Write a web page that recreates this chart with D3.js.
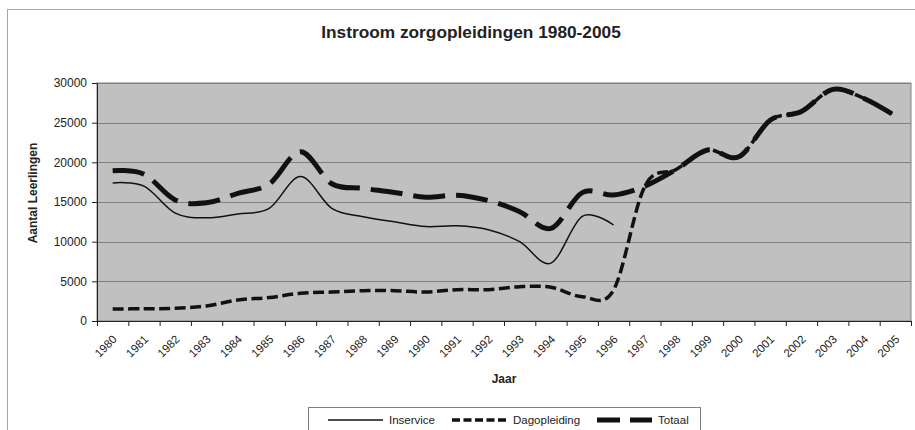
<!DOCTYPE html>
<html>
<head>
<meta charset="utf-8">
<script src="https://cdn.jsdelivr.net/npm/d3@7"></script>
<style>
  body { margin: 0; background: #fff; }
  svg { font-family: "Liberation Sans", Arial, sans-serif; }
</style>
</head>
<body>
<div id="chart"></div>
<script>
// data
var years = ["1980","1981","1982","1983","1984","1985","1986","1987","1988","1989","1990","1991","1992",
             "1993","1994","1995","1996","1997","1998","1999","2000","2001","2002","2003","2004","2005"];
var inservice = [17400, 17000, 13600, 13000, 13500, 14200, 18200, 14200, 13150, 12500, 11900, 12000, 11500,
                 10000, 7300, 13200, 12100];
var dagopleiding = [1500, 1550, 1600, 1900, 2650, 2950, 3500, 3650, 3820, 3820, 3650, 3950, 3950,
                    4330, 4250, 3070, 3900, 17000, 19100, 21550, 20700, 25300, 26400, 29200, 28050, 25850];
var totaal = [18950, 18500, 15250, 14900, 16100, 17270, 21340, 17300, 16720, 16200, 15600, 15850, 15170,
              13780, 11680, 16180, 15880, 17000, 19100, 21550, 20700, 25300, 26400, 29200, 28050, 25850];
var yTicks = [0, 5000, 10000, 15000, 20000, 25000, 30000];

var series = [
    {name: "Inservice", values: inservice, width: 1.5, dash: null},
    {name: "Dagopleiding", values: dagopleiding, width: 3.5, dash: "11,4.5"},
    {name: "Totaal", values: totaal, width: 5, dash: "32,11"}
];

var W = 915, H = 430;
var plot = {left: 97, right: 911, top: 83, bottom: 321};

var svg = d3.select("#chart").append("svg")
    .attr("width", W)
    .attr("height", H);

// outer chart border (right/bottom run off the picture)
svg.append("rect")
    .attr("x", 7.5).attr("y", 9.5)
    .attr("width", 1000).attr("height", 1000)
    .attr("fill", "#fff")
    .attr("stroke", "#a6a6a6");

var x = d3.scaleBand().domain(years).range([plot.left, plot.right]).padding(0);
var xEdge = d3.scaleLinear().domain([0, years.length]).range([plot.left, plot.right]);
var y = d3.scaleLinear().domain([0, 30000]).range([plot.bottom, plot.top]);

// plot background
svg.append("rect")
    .attr("x", plot.left).attr("y", plot.top)
    .attr("width", plot.right - plot.left).attr("height", plot.bottom - plot.top)
    .attr("fill", "#c0c0c0")
    .attr("stroke", "#808080");

// gridlines
svg.append("g").selectAll("line")
    .data(yTicks.slice(1))
    .join("line")
    .attr("x1", plot.left).attr("x2", plot.right)
    .attr("y1", function(d) { return Math.round(y(d)) + 0.5; })
    .attr("y2", function(d) { return Math.round(y(d)) + 0.5; })
    .attr("stroke", "#808080");

// y axis
var yAxis = svg.append("g")
    .attr("transform", "translate(" + plot.left + ",0)")
    .call(d3.axisLeft(y).tickValues(yTicks).tickSize(5).tickPadding(5).tickFormat(d3.format("d")));
yAxis.select(".domain").attr("stroke", "#222");
yAxis.selectAll(".tick line").attr("stroke", "#222");
yAxis.selectAll(".tick text").attr("font-size", 12).attr("fill", "#222")
    .attr("font-family", "Liberation Sans, Arial, sans-serif");

// x axis: tick marks on category edges
var xAxis = svg.append("g")
    .attr("transform", "translate(0," + plot.bottom + ")")
    .call(d3.axisBottom(xEdge).tickValues(d3.range(years.length + 1)).tickSize(5).tickFormat(""));
xAxis.select(".domain").attr("stroke", "#222");
xAxis.selectAll(".tick line").attr("stroke", "#222");

// x labels, rotated
svg.append("g").selectAll("text")
    .data(years)
    .join("text")
    .attr("transform", function(d) {
        return "translate(" + (x(d) + x.bandwidth() / 2 + 5) + "," + (plot.bottom + 19) + ") rotate(-45)";
    })
    .attr("text-anchor", "end")
    .attr("font-size", 11.5)
    .attr("fill", "#222")
    .text(function(d) { return d; });

// lines
var line = d3.line()
    .defined(function(d) { return d != null; })
    .x(function(d, i) { return x(years[i]) + x.bandwidth() / 2; })
    .y(function(d) { return y(d); })
    .curve(d3.curveCatmullRom.alpha(0));

svg.append("g").selectAll("path")
    .data(series)
    .join("path")
    .attr("d", function(s) { return line(s.values); })
    .attr("fill", "none")
    .attr("stroke", "#111")
    .attr("stroke-width", function(s) { return s.width; })
    .attr("stroke-dasharray", function(s) { return s.dash; });

// titles
svg.append("text")
    .attr("x", 471).attr("y", 38)
    .attr("text-anchor", "middle")
    .attr("font-size", 17.3).attr("font-weight", "bold").attr("fill", "#222")
    .text("Instroom zorgopleidingen 1980-2005");

svg.append("text")
    .attr("x", (plot.left + plot.right) / 2).attr("y", 383)
    .attr("text-anchor", "middle")
    .attr("font-size", 12).attr("font-weight", "bold").attr("fill", "#222")
    .text("Jaar");

svg.append("text")
    .attr("transform", "translate(37,193) rotate(-90)")
    .attr("text-anchor", "middle")
    .attr("font-size", 12).attr("font-weight", "bold").attr("fill", "#222")
    .text("Aantal Leerlingen");

// legend
var legend = svg.append("g");
legend.append("rect")
    .attr("x", 308.5).attr("y", 407.5)
    .attr("width", 392).attr("height", 40)
    .attr("fill", "#fff")
    .attr("stroke", "#808080");

var legendX = [328, 452, 597];
var items = legend.selectAll("g.item")
    .data(series)
    .join("g")
    .attr("class", "item")
    .attr("transform", function(s, i) { return "translate(" + legendX[i] + ",420)"; });
items.append("line")
    .attr("x1", 0).attr("x2", 55)
    .attr("stroke", "#111")
    .attr("stroke-width", function(s) { return s.width; })
    .attr("stroke-dasharray", function(s) { return s.name === "Totaal" ? "23,10" : (s.dash ? "8,3.5" : null); });
items.append("text")
    .attr("x", 61).attr("y", 4)
    .attr("font-size", 11.5).attr("fill", "#222")
    .text(function(s) { return s.name; });
</script>
</body>
</html>
